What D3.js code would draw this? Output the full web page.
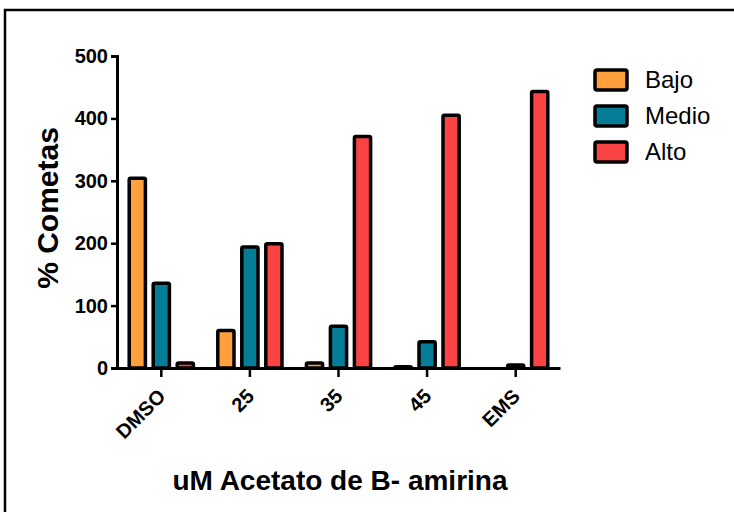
<!DOCTYPE html>
<html>
<head>
<meta charset="utf-8">
<script src="https://cdn.jsdelivr.net/npm/d3@7"></script>
<style>
  body { margin: 0; background: #fff; }
  text { font-family: "Liberation Sans", Arial, sans-serif; }
</style>
</head>
<body>
<div id="chart"></div>
<script>
var categories = ["DMSO", "25", "35", "45", "EMS"];
var series = ["Bajo", "Medio", "Alto"];
var bajo = [304, 60, 8, 2, 0];
var medio = [136, 194, 67, 42, 5];
var alto = [8, 199, 371, 405, 443];
var yTicks = [0, 100, 200, 300, 400, 500];
var colors = ["#FFA03C", "#057D96", "#FC4343"];

var values = [bajo, medio, alto];
var data = categories.map(function(c, i) {
    return { cat: c, vals: series.map(function(s, j) { return { key: s, value: values[j][i] }; }) };
});

var svgWidth = 734;
var svgHeight = 512;

var svg = d3.select("#chart")
            .append("svg")
            .attr("width", svgWidth)
            .attr("height", svgHeight);

// frame
svg.append("rect")
   .attr("x", 5)
   .attr("y", 10)
   .attr("width", 760)
   .attr("height", 560)
   .attr("fill", "none")
   .attr("stroke", "#000")
   .attr("stroke-width", 2.5);

var plotLeft = 117, plotRight = 560, plotTop = 56, plotBottom = 368;

var x0 = d3.scaleBand()
           .domain(categories)
           .range([plotLeft, plotRight]);

var x1 = d3.scaleBand()
           .domain(series)
           .range([-36, 36])
           .paddingInner(0.2)
           .paddingOuter(0.1);

var y = d3.scaleLinear()
          .domain([0, 500])
          .range([plotBottom, plotTop]);

var color = d3.scaleOrdinal().domain(series).range(colors);

// bars
var groups = svg.selectAll(".grp")
                .data(data)
                .enter()
                .append("g")
                .attr("class", "grp")
                .attr("transform", d => `translate(${x0(d.cat) + x0.bandwidth() / 2}, 0)`);

groups.selectAll("rect")
      .data(d => d.vals)
      .enter()
      .append("rect")
      .attr("x", d => x1(d.key) + 1.5)
      .attr("y", d => y(d.value))
      .attr("width", x1.bandwidth() - 3)
      .attr("height", d => y(0) - y(d.value))
      .attr("rx", 1.5)
      .attr("fill", d => color(d.key))
      .attr("stroke", "#000")
      .attr("stroke-width", 3.5)
      .attr("stroke-linejoin", "round");

// y axis
var yAxis = svg.append("g")
               .attr("transform", `translate(${plotLeft}, 0)`)
               .call(d3.axisLeft(y).tickValues(yTicks).tickSize(6).tickPadding(3));
yAxis.select(".domain").attr("stroke-width", 3);
yAxis.selectAll(".tick line").attr("stroke-width", 2.5);
yAxis.selectAll("text")
     .attr("font-size", "20px")
     .attr("font-weight", "bold")
     .attr("fill", "#000")
     .attr("font-family", "Liberation Sans, Arial, sans-serif");

// x axis
var xAxis = svg.append("g")
               .attr("transform", `translate(0, ${plotBottom})`)
               .call(d3.axisBottom(x0).tickSize(9).tickSizeOuter(0));
xAxis.select(".domain").attr("stroke-width", 3);
xAxis.selectAll(".tick line").attr("stroke-width", 2.5);
xAxis.selectAll("text")
     .attr("font-size", "20px")
     .attr("font-weight", "bold")
     .attr("fill", "#000")
     .attr("font-family", "Liberation Sans, Arial, sans-serif")
     .attr("text-anchor", "end")
     .attr("dy", "0")
     .attr("transform", "translate(-3, 21) rotate(-45)");

// axis titles
svg.append("text")
   .attr("transform", "rotate(-90)")
   .attr("x", -208)
   .attr("y", 58)
   .attr("text-anchor", "middle")
   .attr("font-size", "30px")
   .attr("font-weight", "bold")
   .text("% Cometas");

svg.append("text")
   .attr("x", 340)
   .attr("y", 490)
   .attr("text-anchor", "middle")
   .attr("font-size", "28px")
   .attr("font-weight", "bold")
   .text("uM Acetato de B- amirina");

// legend
var legend = svg.selectAll(".leg")
                .data(series)
                .enter()
                .append("g")
                .attr("class", "leg")
                .attr("transform", (d, i) => `translate(595, ${70 + i * 36})`);

legend.append("rect")
      .attr("width", 32)
      .attr("height", 20)
      .attr("rx", 2)
      .attr("fill", d => color(d))
      .attr("stroke", "#000")
      .attr("stroke-width", 3.5);

legend.append("text")
      .attr("x", 50)
      .attr("y", 18)
      .attr("font-size", "24px")
      .text(d => d);
</script>
</body>
</html>
